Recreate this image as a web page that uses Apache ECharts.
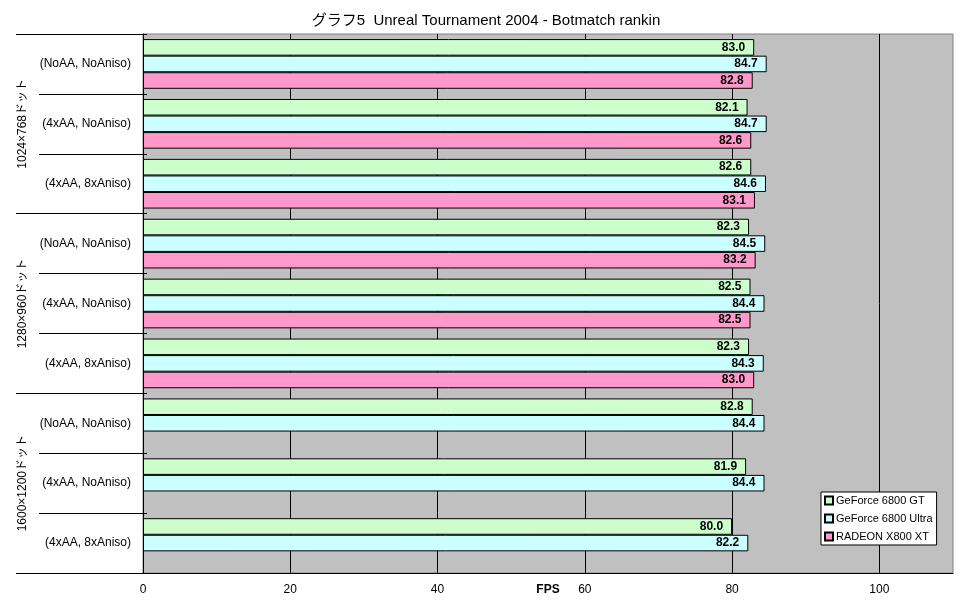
<!DOCTYPE html>
<html>
<head>
<meta charset="utf-8">
<script src="https://cdn.jsdelivr.net/npm/echarts@6/dist/echarts.min.js"></script>
<style>html,body{margin:0;padding:0;background:#fff}#c{width:972px;height:604px}</style>
</head>
<body>
<div id="c"></div>
<script>
const categories = ['(NoAA, NoAniso)', '(4xAA, NoAniso)', '(4xAA, 8xAniso)',
                    '(NoAA, NoAniso)', '(4xAA, NoAniso)', '(4xAA, 8xAniso)',
                    '(NoAA, NoAniso)', '(4xAA, NoAniso)', '(4xAA, 8xAniso)'];
const groups = ['1024×768ドット', '1280×960ドット', '1600×1200ドット'];
const seriesNames = ['GeForce 6800 GT', 'GeForce 6800 Ultra', 'RADEON X800 XT'];
const gtValues = [83.0, 82.1, 82.6, 82.3, 82.5, 82.3, 82.8, 81.9, 80.0];
const ultraValues = [84.7, 84.7, 84.6, 84.5, 84.4, 84.3, 84.4, 84.4, 82.2];
const radeonValues = [82.8, 82.6, 83.1, 83.2, 82.5, 83.0, null, null, null];
const xTicks = [0, 20, 40, 60, 80, 100];
const colors = ['#CCFFCC', '#CCFFFF', '#FF99CC'];

const FONT = '"Liberation Sans", "Noto Sans CJK JP", sans-serif';
const chart = echarts.init(document.getElementById('c'), null, {renderer: 'canvas'});

function mk(name, data, color) {
  return {
    name: name, type: 'bar', yAxisIndex: 0, data: data,
    barGap: '0%', barCategoryGap: '17%',
    itemStyle: {color: color, borderColor: '#000', borderWidth: 1},
    label: {
      show: true, position: 'insideRight', distance: 9,
      fontFamily: FONT, fontSize: 12, fontWeight: 'bold', color: '#000',
      formatter: p => (p.value == null ? '' : Number(p.value).toFixed(1))
    },
    emphasis: {disabled: true}, animation: false
  };
}

chart.setOption({
  animation: false,
  textStyle: {fontFamily: FONT},
  title: {
    text: 'グラフ5  Unreal Tournament 2004 - Botmatch rankin',
    left: 'center', top: 8,
    textStyle: {fontFamily: FONT, fontSize: 15, fontWeight: 'normal', color: '#000'}
  },
  grid: {
    left: 143, right: 19, top: 34, bottom: 31,
    show: true, backgroundColor: '#C0C0C0', borderColor: '#808080', borderWidth: 1
  },
  legend: {
    orient: 'vertical', left: 821, top: 492,
    data: seriesNames,
    backgroundColor: '#fff', borderColor: '#000', borderWidth: 1,
    padding: [3, 4, 3, 3], itemGap: 7, itemWidth: 8, itemHeight: 8,
    icon: 'rect',
    textStyle: {fontFamily: FONT, fontSize: 11, color: '#000', padding: [0, 0, 0, -2]}
  },
  xAxis: {
    type: 'value', min: 0, max: 110, interval: 20,
    name: 'FPS', nameLocation: 'middle', nameGap: 11, nameMoveOverlap: false,
    nameTextStyle: {fontFamily: FONT, fontSize: 12, fontWeight: 'bold', color: '#000', verticalAlign: 'top'},
    axisLine: {show: true, lineStyle: {color: '#000', width: 1}},
    axisTick: {show: false},
    axisLabel: {
      fontFamily: FONT, fontSize: 12, color: '#000', margin: 11, showMaxLabel: false,
      verticalAlign: 'top',
      formatter: v => (xTicks.indexOf(v) >= 0 ? String(v) : '')
    },
    splitLine: {show: true, showMaxLine: false, lineStyle: {color: '#000', width: 1}}
  },
  yAxis: [
    {
      type: 'category', data: categories, inverse: true, position: 'left',
      axisLine: {show: true, lineStyle: {color: '#000', width: 1}},
      axisTick: {show: true, length: 104, lineStyle: {color: '#000', width: 1}},
      axisLabel: {fontFamily: FONT, fontSize: 12, color: '#000', margin: 12, interval: 0}
    },
    {
      type: 'category', data: groups, inverse: true, position: 'left', offset: 0,
      axisLine: {show: false},
      axisTick: {show: true, length: 127, lineStyle: {color: '#000', width: 1}},
      axisLabel: {fontFamily: FONT, fontSize: 12, color: '#000', rotate: 90, margin: 114, interval: 0}
    },
    {
      type: 'category', data: categories, inverse: true, position: 'left', offset: 0,
      axisLine: {show: false},
      axisTick: {show: true, inside: true, length: 4, lineStyle: {color: '#000', width: 1}},
      axisLabel: {show: false}
    }
  ],
  series: [
    mk(seriesNames[0], gtValues, colors[0]),
    mk(seriesNames[1], ultraValues, colors[1]),
    mk(seriesNames[2], radeonValues, colors[2])
  ]
});
</script>
</body>
</html>
